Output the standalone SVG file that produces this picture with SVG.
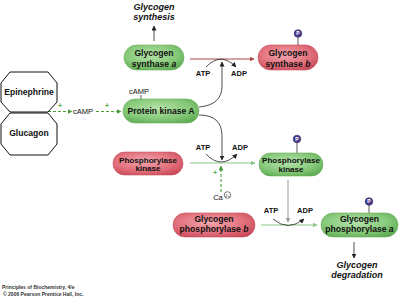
<svg xmlns="http://www.w3.org/2000/svg" width="400" height="298" viewBox="0 0 400 298">
<defs>
<radialGradient id="gG" cx="0.45" cy="0.4" r="0.7">
<stop offset="0" stop-color="#b6e2aa"/>
<stop offset="0.6" stop-color="#86c97a"/>
<stop offset="1" stop-color="#5aa84e"/>
</radialGradient>
<radialGradient id="gR" cx="0.45" cy="0.4" r="0.7">
<stop offset="0" stop-color="#f2a6ae"/>
<stop offset="0.6" stop-color="#e2707c"/>
<stop offset="1" stop-color="#c84656"/>
</radialGradient>
<marker id="aK" viewBox="0 0 10 10" refX="9" refY="5" markerWidth="5" markerHeight="5" orient="auto" markerUnits="userSpaceOnUse"><path d="M0,0L10,5L0,10z" fill="#222"/></marker>
<marker id="aR" viewBox="0 0 10 10" refX="9" refY="5" markerWidth="5" markerHeight="5" orient="auto" markerUnits="userSpaceOnUse"><path d="M0,0L10,5L0,10z" fill="#a84848"/></marker>
<marker id="aG" viewBox="0 0 10 10" refX="9" refY="5" markerWidth="5" markerHeight="5" orient="auto" markerUnits="userSpaceOnUse"><path d="M0,0L10,5L0,10z" fill="#8cc686"/></marker>
<marker id="aD" viewBox="0 0 10 10" refX="9" refY="5" markerWidth="5" markerHeight="5" orient="auto" markerUnits="userSpaceOnUse"><path d="M0,0L10,5L0,10z" fill="#4c9a3c"/></marker>
<marker id="aY" viewBox="0 0 10 10" refX="9" refY="5" markerWidth="5" markerHeight="5" orient="auto" markerUnits="userSpaceOnUse"><path d="M0,0L10,5L0,10z" fill="#999"/></marker>
</defs>
<style>
text{font-family:"Liberation Sans",Arial,sans-serif;fill:#111}
.n{font-size:8.6px;font-weight:bold;text-anchor:middle}
.np{font-size:8.1px}
.it{font-size:9px;font-weight:bold;font-style:italic;text-anchor:middle}
.s{font-size:7.5px;text-anchor:middle}
.sb{font-size:7.5px;font-weight:bold;text-anchor:middle}
.pl{fill:#5ab04a;font-size:7px;font-weight:bold;text-anchor:middle}
.g{fill:url(#gG);stroke:#6cb060;stroke-width:0.6}
.r{fill:url(#gR);stroke:#c85060;stroke-width:0.6}
.oct{fill:#fff;stroke:#111;stroke-width:1}
.pc{fill:#4a3f8e;stroke:#2a2250;stroke-width:0.6}
.pt{font-size:5px;font-weight:bold;fill:#fff;text-anchor:middle}
.pline{stroke:#333;stroke-width:0.8}
.k{fill:none;stroke:#222;stroke-width:0.8}
.cp{font-size:5px;font-weight:bold;fill:#333}
</style>

<g id="connectors">
<line x1="154" y1="41" x2="154" y2="26" class="k" marker-end="url(#aK)"/>
<line x1="190" y1="59" x2="254" y2="59" stroke="#a84848" stroke-width="1" marker-end="url(#aR)"/>
<path d="M206,67 Q221,51.5 236,67" class="k" marker-end="url(#aK)"/>
<path d="M199,107 Q222,105 222,86 L222,62" class="k" marker-end="url(#aK)"/>
<path d="M199,115 Q222,115 222,136 L222,160" class="k" marker-end="url(#aK)"/>
<line x1="48" y1="111.5" x2="72" y2="111.5" stroke="#4c9a3c" stroke-width="1.1" stroke-dasharray="3,2" marker-end="url(#aD)"/>
<line x1="96" y1="111.5" x2="121" y2="111.5" stroke="#4c9a3c" stroke-width="1.1" stroke-dasharray="3,2" marker-end="url(#aD)"/>
<line x1="190" y1="163" x2="255" y2="163" stroke="#8cc686" stroke-width="1" marker-end="url(#aG)"/>
<path d="M206,154 Q221,170 237,154" class="k" marker-end="url(#aK)"/>
<line x1="221" y1="192" x2="221" y2="166" stroke="#4c9a3c" stroke-width="1.1" stroke-dasharray="3,2" marker-end="url(#aD)"/>
<line x1="288" y1="180" x2="288" y2="222" stroke="#999" stroke-width="1" marker-end="url(#aY)"/>
<line x1="261" y1="225" x2="317" y2="225" stroke="#8cc686" stroke-width="1" marker-end="url(#aG)"/>
<path d="M273,219 Q288,232 304,219" class="k" marker-end="url(#aK)"/>
<line x1="354" y1="242" x2="354" y2="258" class="k" marker-end="url(#aK)"/>
</g>

<g id="labels">
<text class="it" x="154" y="10">Glycogen</text>
<text class="it" x="154" y="20">synthesis</text>
<text class="it" x="357" y="268">Glycogen</text>
<text class="it" x="357" y="278">degradation</text>
<text class="sb" x="203" y="76">ATP</text>
<text class="sb" x="239" y="76">ADP</text>
<text class="sb" x="203" y="150">ATP</text>
<text class="sb" x="240" y="150">ADP</text>
<text class="sb" x="271" y="213">ATP</text>
<text class="sb" x="305" y="213">ADP</text>
<text class="s" x="83" y="114">cAMP</text>
<text class="pl" x="60" y="108">+</text>
<text class="pl" x="107" y="108">+</text>
<text class="pl" x="215" y="175">+</text>
<text class="s" x="218" y="199.5">Ca</text>
<circle cx="227.5" cy="195" r="3.3" fill="#fff" stroke="#222" stroke-width="0.6"/>
<text x="227.5" y="196.6" style="font-size:4px;text-anchor:middle">2+</text>
<text class="cp" x="2" y="289">Principles of Biochemistry, 4/e</text>
<text class="cp" x="3" y="296">© 2006 Pearson Prentice Hall, Inc.</text>
</g>

<g id="epinephrine">
<polygon class="oct" points="10,72 48,72 57,83 57,102 48,112 10,112 1,102 1,83"/>
<text class="n" x="29" y="95">Epinephrine</text>
</g>
<g id="glucagon">
<polygon class="oct" points="10,113 48,113 57,124 57,144 48,155 10,155 1,144 1,124"/>
<text class="n" x="29" y="136">Glucagon</text>
</g>

<g id="glycogen-synthase-a">
<rect class="g" x="124" y="45" width="60" height="25" rx="12.5"/>
<text class="n" x="154" y="56">Glycogen</text>
<text class="n" x="154" y="66.5">synthase <tspan font-style="italic">a</tspan></text>
</g>

<g id="glycogen-synthase-b">
<line class="pline" x1="298" y1="37" x2="298" y2="45"/>
<circle class="pc" cx="298" cy="33.5" r="3.8"/>
<text class="pt" x="298" y="35.3">P</text>
<rect class="r" x="258" y="45" width="60" height="25" rx="12.5"/>
<text class="n" x="288" y="56">Glycogen</text>
<text class="n" x="288" y="66.5">synthase <tspan font-style="italic">b</tspan></text>
</g>

<g id="protein-kinase-a">
<text class="s" x="139" y="94">cAMP</text>
<line class="pline" x1="141" y1="95" x2="141" y2="99"/>
<rect class="g" x="123" y="99" width="76" height="24" rx="12"/>
<text class="n" x="161" y="114">Protein kinase A</text>
</g>

<g id="phosphorylase-kinase-red">
<rect class="r" x="113" y="152" width="70" height="23" rx="11.5"/>
<text class="n np" x="148" y="162.5">Phosphorylase</text>
<text class="n np" x="148" y="171">kinase</text>
</g>

<g id="phosphorylase-kinase-green">
<line class="pline" x1="297" y1="142.5" x2="297" y2="153"/>
<circle class="pc" cx="297" cy="139" r="3.8"/>
<text class="pt" x="297" y="140.8">P</text>
<rect class="g" x="259" y="153" width="64" height="23" rx="11.5"/>
<text class="n np" x="291" y="163">Phosphorylase</text>
<text class="n np" x="291" y="172">kinase</text>
</g>

<g id="glycogen-phosphorylase-b">
<rect class="r" x="173" y="213" width="82" height="24" rx="12"/>
<text class="n" x="214" y="222">Glycogen</text>
<text class="n" x="214" y="231.5">phosphorylase <tspan font-style="italic">b</tspan></text>
</g>

<g id="glycogen-phosphorylase-a">
<line class="pline" x1="369" y1="205" x2="369" y2="213"/>
<circle class="pc" cx="369" cy="201.5" r="3.8"/>
<text class="pt" x="369" y="203.3">P</text>
<rect class="g" x="321" y="213" width="77" height="24" rx="12"/>
<text class="n" x="359.5" y="222">Glycogen</text>
<text class="n" x="359.5" y="231.5">phosphorylase <tspan font-style="italic">a</tspan></text>
</g>
</svg>
